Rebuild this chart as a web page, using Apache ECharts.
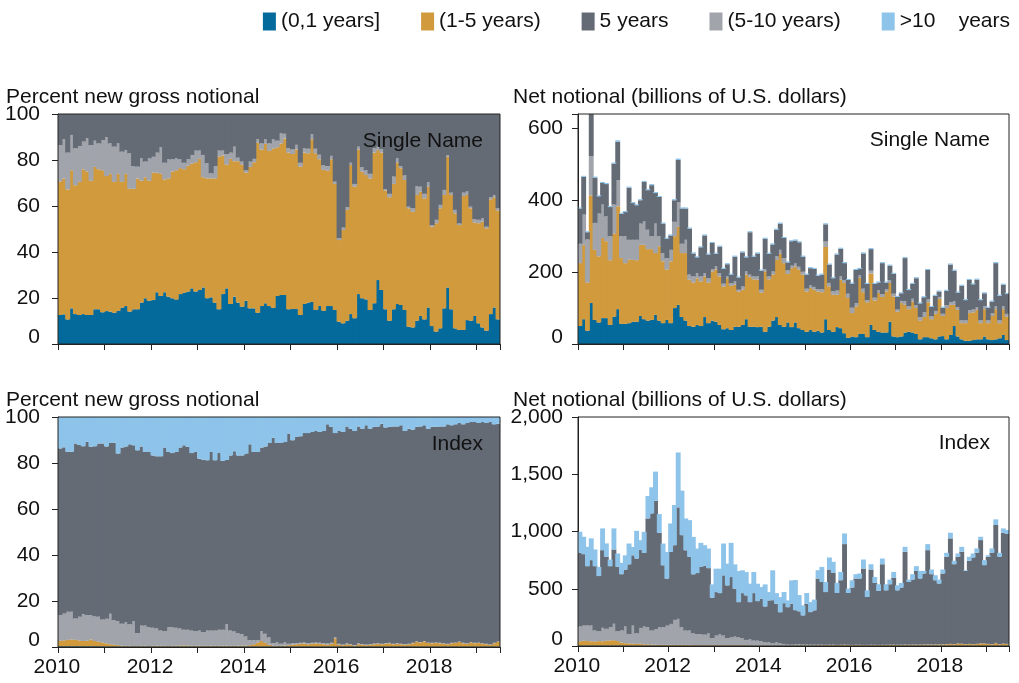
<!DOCTYPE html>
<html>
<head>
<meta charset="utf-8">
<script src="https://cdn.jsdelivr.net/npm/echarts@6/dist/echarts.min.js"></script>
<style>
  html, body { margin: 0; padding: 0; background: #fff; }
  #chart { width: 1019px; height: 683px; }
</style>
</head>
<body>
<div id="chart"></div>
<script>
// monthly observations, Jan 2010 - Jun 2019
const months = [];
for (let y = 2010; y <= 2019; y++) {
  for (let m = 1; m <= 12; m++) {
    if (y === 2019 && m > 6) break;
    months.push(y + '-' + (m < 10 ? '0' + m : m));
  }
}

const seriesNames = ['(0,1 years]', '(1-5 years)', '5 years', '(5-10 years)', '>10  years'];

// Single name, percent of new gross notional
const snPctShort = [12.6, 12.9, 10.7, 15.5, 13.0, 12.6, 13.0, 12.6, 12.6, 15.1, 15.1, 13.8, 14.3, 14.1, 13.6, 14.5, 15.8, 16.5, 14.1, 15.1, 15.1, 18.0, 19.9, 18.8, 19.1, 22.5, 20.9, 22.5, 20.6, 19.9, 19.4, 21.7, 22.3, 22.8, 24.2, 22.8, 23.5, 24.6, 19.9, 20.3, 18.0, 15.1, 21.7, 24.2, 17.4, 20.6, 18.0, 16.2, 18.8, 15.5, 15.5, 13.6, 16.5, 17.7, 16.5, 15.8, 20.9,
  21.3, 21.3, 15.1, 15.2, 15.2, 12.6, 17.4, 18.0, 18.3, 14.8, 16.5, 14.5, 16.5, 16.5, 14.8, 9.7, 9.0, 10.1, 13.0, 11.2, 21.7, 19.9, 19.4, 14.8, 17.7, 27.8, 23.5, 15.1, 10.1, 15.1, 17.4, 17.0, 14.8, 7.5, 7.2, 10.1, 12.2, 10.7, 15.9, 7.8, 5.4, 6.8, 15.5, 24.6, 15.1, 6.8, 6.1, 6.1, 10.4, 10.1, 12.2, 9.0, 7.2, 5.8, 13.0, 15.9, 10.7];
const snPctMid = [58.1, 59.1, 56.5, 60.0, 56.0, 57.9, 63.0, 62.4, 58.4, 61.9, 60.9, 61.7, 58.7, 59.9, 56.9, 59.5, 54.7, 57.5, 53.4, 52.4, 56.9, 53.0, 52.6, 52.2, 55.4, 52.0, 53.1, 49.0, 51.4, 55.1, 56.1, 54.8, 53.7, 54.7, 54.3, 56.2, 57.0, 47.9, 52.1, 51.7, 54.0, 66.4, 60.3, 53.8, 63.1, 58.9, 61.5, 61.8, 55.7, 61.5, 63.5, 73.9, 68.0, 69.3, 67.5, 69.2, 64.6,
  65.9, 68.1, 68.1, 67.4, 69.4, 64.5, 65.8, 64.9, 70.7, 68.1, 63.8, 61.2, 58.9, 63.8, 54.8, 35.5, 40.6, 48.2, 64.8, 57.2, 62.9, 55.0, 54.1, 57.2, 65.5, 56.5, 59.7, 51.6, 53.7, 54.5, 61.4, 59.4, 56.5, 51.5, 50.3, 54.7, 54.0, 52.6, 52.5, 43.2, 47.1, 52.2, 49.3, 56.8, 49.7, 50.0, 45.6, 58.2, 54.4, 48.9, 40.6, 43.5, 46.0, 44.5, 49.9, 47.9, 47.3];
const snPctLong = [15.8, 17.0, 16.0, 15.4, 16.1, 15.6, 12.0, 14.4, 15.5, 11.4, 11.2, 13.2, 16.9, 13.2, 15.3, 13.2, 13.1, 10.3, 15.4, 9.9, 5.1, 9.7, 6.8, 9.7, 6.9, 8.7, 11.5, 7.3, 8.3, 5.3, 5.2, 3.8, 2.8, 2.8, 3.7, 5.1, 3.6, 9.7, 6.6, 2.2, 5.4, 2.6, 2.1, 4.6, 2.7, 6.3, 1.5, 1.3, 1.0, 2.3, 1.5, 1.5, 2.7, 2.0, 3.2, 4.0, 2.9,
  4.4, 2.0, 2.0, 2.0, 2.0, 1.7, 2.0, 2.0, 2.3, 2.0, 2.0, 2.0, 2.0, 1.5, 1.0, 0.8, 1.0, 1.2, 1.0, 1.2, 1.2, 2.0, 2.0, 2.0, 1.9, 1.5, 1.5, 0.6, 1.5, 3.2, 2.0, 1.0, 2.0, 0.7, 1.5, 3.9, 2.2, 2.0, 2.0, 0.7, 1.5, 1.5, 2.2, 0.7, 1.0, 1.5, 0.7, 1.5, 1.5, 0.7, 1.5, 1.5, 1.5, 0.7, 0.9, 1.0, 1.0];
const snPctFive = [13.5, 11.0, 16.8, 9.1, 14.9, 13.9, 12.0, 10.6, 13.5, 11.6, 12.8, 11.3, 10.1, 12.8, 14.2, 12.8, 16.4, 15.7, 17.1, 22.6, 22.9, 19.3, 20.7, 19.3, 18.6, 16.8, 14.5, 21.2, 19.7, 19.7, 19.3, 19.7, 21.2, 19.7, 17.8, 15.9, 15.9, 17.8, 21.4, 25.8, 22.6, 15.9, 15.9, 17.4, 16.8, 14.2, 19.0, 20.7, 24.5, 20.7, 19.5, 11.0, 12.8, 11.0, 12.8, 11.0, 11.6,
  8.4, 8.6, 14.8, 15.4, 13.4, 21.2, 14.8, 15.1, 8.7, 15.1, 17.7, 22.3, 22.6, 18.2, 29.4, 54.0, 49.4, 40.5, 21.2, 30.4, 14.2, 23.1, 24.5, 26.0, 14.9, 14.2, 15.3, 32.7, 34.7, 27.2, 19.2, 22.6, 26.7, 40.3, 41.0, 31.3, 31.6, 34.7, 29.6, 48.3, 46.0, 39.5, 33.0, 17.9, 34.2, 41.7, 47.6, 34.2, 33.7, 40.3, 45.7, 46.0, 45.3, 49.0, 36.2, 35.2, 41.0];
const snPctOver10 = [];

// Single name, net notional (billions of U.S. dollars)
const snNetShort = [50, 69, 37, 114, 67, 60, 72, 72, 53, 76, 97, 56, 56, 58, 62, 62, 78, 69, 65, 67, 81, 65, 58, 67, 58, 100, 109, 75, 65, 50, 48, 53, 50, 75, 58, 65, 62, 53, 41, 44, 39, 48, 48, 53, 69, 48, 48, 47, 48, 34, 48, 65, 75, 53, 48, 60, 47,
  60, 44, 39, 34, 39, 34, 37, 32, 69, 39, 34, 47, 44, 30, 17, 21, 19, 28, 28, 19, 53, 39, 34, 32, 32, 62, 21, 19, 21, 32, 34, 32, 28, 13, 19, 19, 16, 13, 21, 22, 13, 25, 50, 21, 13, 9, 9, 11, 13, 13, 21, 13, 11, 13, 16, 25, 11];
const snNetMid = [175, 207, 134, 299, 195, 184, 223, 214, 180, 231, 286, 183, 169, 177, 172, 171, 198, 207, 199, 197, 172, 207, 172, 140, 172, 200, 217, 178, 188, 129, 123, 130, 124, 113, 113, 137, 146, 135, 119, 139, 123, 117, 98, 98, 124, 138, 132, 132, 95, 168, 132, 128, 159, 198, 177, 135, 164,
  156, 163, 154, 112, 117, 117, 109, 112, 201, 121, 103, 90, 135, 140, 111, 65, 85, 156, 116, 97, 143, 82, 108, 99, 114, 108, 111, 71, 93, 77, 63, 86, 72, 52, 56, 97, 53, 71, 104, 56, 87, 84, 59, 74, 45, 49, 77, 77, 82, 45, 76, 45, 67, 84, 42, 72, 65];
const snNetLong = [54, 84, 120, 110, 75, 119, 93, 69, 67, 81, 73, 61, 75, 55, 56, 57, 59, 65, 54, 36, 82, 28, 23, 32, 32, 40, 68, 26, 37, 14, 17, 14, 14, 9, 12, 6, 8, 9, 8, 5, 7, 9, 5, 9, 9, 7, 8, 9, 8, 6, 8, 9, 10, 11, 14, 10, 7,
  8, 8, 8, 8, 8, 8, 7, 8, 15, 10, 10, 12, 10, 8, 12, 15, 10, 8, 10, 6, 8, 8, 8, 8, 6, 8, 8, 6, 6, 10, 8, 8, 8, 10, 14, 8, 8, 8, 6, 6, 8, 8, 10, 8, 8, 8, 8, 8, 8, 8, 8, 8, 8, 8, 8, 8, 8];
const snNetFive = [98, 105, 20, 134, 126, 48, 60, 90, 81, 114, 107, 62, 67, 145, 102, 96, 65, 110, 110, 142, 85, 109, 82, 54, 40, 60, 118, 98, 87, 128, 64, 44, 81, 105, 66, 73, 35, 74, 41, 34, 24, 69, 34, 95, 39, 118, 55, 64, 53, 85, 63, 75, 74, 73, 56, 22, 68,
  64, 68, 42, 39, 47, 50, 37, 41, 48, 51, 36, 100, 76, 47, 38, 67, 92, 17, 98, 45, 60, 38, 21, 86, 19, 40, 55, 35, 21, 120, 45, 41, 75, 38, 41, 82, 26, 42, 15, 17, 40, 104, 85, 40, 96, 56, 84, 70, 76, 56, 36, 35, 32, 120, 68, 60, 55];
const snNetOver10 = [3, 3, 3, 4, 3, 3, 3, 3, 3, 3, 4, 3, 3, 3, 3, 3, 3, 3, 3, 3, 3, 3, 3, 3, 3, 3, 4, 3, 3, 3, 3, 3, 3, 3, 3, 3, 3, 3, 3, 3, 3, 3, 3, 3, 3, 3, 3, 3, 3, 3, 3, 3, 3, 3, 3, 3, 3,
  3, 3, 3, 3, 3, 3, 3, 3, 3, 3, 3, 3, 3, 3, 3, 3, 3, 3, 3, 3, 3, 3, 3, 3, 3, 3, 3, 3, 3, 3, 3, 3, 3, 3, 3, 3, 3, 3, 3, 3, 3, 3, 3, 3, 3, 3, 3, 3, 3, 3, 3, 3, 3, 3, 3, 3, 3];

// Index, percent of new gross notional
const idxPctShort = [0.3, 0.3, 0.3, 0.3, 0.3, 0.3, 0.3, 0.3, 0.3, 0.3, 0.3, 0.3, 0.2, 0.2, 0.2, 0.2, 0.2, 0.2, 0.2, 0.2, 0.2, 0.2, 0.2, 0.2, 0.2, 0.2, 0.2, 0.2, 0.2, 0.2, 0.2, 0.2, 0.2, 0.2, 0.2, 0.2, 0.2, 0.2, 0.2, 0.2, 0.2, 0.2, 0.2, 0.2, 0.2, 0.2, 0.2, 0.2, 0.2, 0.2, 0.2, 0.2, 0.2, 0.2, 0.2, 0.2, 0.2,
  0.2, 0.2, 0.2, 0.2, 0.2, 0.2, 0.2, 0.2, 0.2, 0.2, 0.2, 0.2, 0.2, 0.2, 0.2, 0.2, 0.2, 0.2, 0.2, 0.2, 0.2, 0.2, 0.2, 0.2, 0.2, 0.2, 0.2, 0.2, 0.2, 0.2, 0.2, 0.2, 0.2, 0.2, 0.2, 0.2, 0.2, 0.2, 0.2, 0.2, 0.2, 0.2, 0.2, 0.2, 0.2, 0.2, 0.2, 0.2, 0.2, 0.2, 0.2, 0.2, 0.2, 0.2, 0.2, 0.2, 0.2];
const idxPctMid = [2.4, 2.6, 2.8, 3.0, 2.8, 2.6, 2.3, 2.4, 3.0, 2.3, 2.0, 1.6, 1.4, 1.0, 0.8, 0.6, 0.4, 0.3, 0.3, 0.2, 0.2, 0.3, 0.3, 0.2, 0.3, 0.4, 0.3, 0.3, 0.2, 0.3, 0.3, 0.4, 0.5, 0.4, 0.3, 0.3, 0.4, 0.3, 0.3, 0.4, 0.3, 0.3, 0.4, 0.4, 0.3, 0.3, 0.4, 0.4, 0.4, 0.6, 1.0, 1.8, 2.4, 1.6, 0.8, 0.4,
  0.3, 0.3, 0.4, 0.6, 0.8, 1.0, 1.2, 1.3, 1.0, 1.2, 1.4, 1.2, 1.0, 0.8, 1.2, 3.6, 0.8, 0.6, 1.0, 0.8, 0.4, 1.0, 0.8, 0.6, 0.8, 1.0, 1.2, 1.0, 1.2, 1.4, 1.0, 1.2, 1.0, 0.8, 1.0, 1.4, 2.0, 1.8, 2.2, 1.6, 1.4, 1.6, 1.4, 1.2, 1.0, 1.4, 1.6, 2.0, 1.4, 1.2, 1.8, 1.4, 1.6, 1.2, 1.0, 0.8, 1.4, 2.0];
const idxPctLong = [11.2, 11.7, 12.2, 12.0, 9.3, 10.2, 11.7, 11.2, 10.6, 10.8, 10.8, 10.1, 10.7, 13.3, 10.6, 10.5, 9.5, 10.4, 9.4, 10.9, 5.7, 8.9, 8.9, 8.3, 7.9, 7.4, 6.7, 6.5, 8.3, 8.2, 7.9, 7.4, 6.8, 6.9, 6.7, 6.5, 6.6, 6.0, 6.7, 6.6, 6.7, 7.0, 6.9, 9.4, 6.7, 6.4, 5.5, 4.9, 4.0, 2.1, 1.7, 0.9, 4.4, 4.0, 3.1, 1.1, 1.7, 0.9, 1.6, 0.6,
  0.6, 0.5, 0.5, 0.6, 0.5, 0.4, 0.5, 0.4, 0.4, 0.5, 0.4, 0.3, 0.4, 0.3, 0.4, 0.3, 0.3, 0.4, 0.3, 0.3, 0.3, 0.3, 0.3, 0.2, 0.3, 0.3, 0.2, 0.3, 0.2, 0.3, 0.2, 0.2, 0.3, 0.2, 0.2, 0.2, 0.2, 0.3, 0.2, 0.2, 0.2, 0.2, 0.2, 0.2, 0.2, 0.2, 0.2, 0.2, 0.2, 0.2, 0.2, 0.2, 0.2, 0.2];
const idxPctFive = [72.4, 72.2, 69.6, 69.6, 76.1, 74.7, 73.0, 75.3, 73.2, 73.9, 75.4, 76.5, 74.9, 74.2, 77.2, 72.8, 76.6, 76.3, 78.2, 76.4, 79.4, 77.8, 75.4, 76.1, 74.9, 74.9, 75.7, 79.7, 76.1, 75.6, 76.4, 78.7, 80.2, 79.5, 77.1, 77.8, 74.7, 74.9, 74.0, 77.6, 74.0, 76.8, 73.4, 71.3, 76.1, 78.2, 77.2, 77.8, 79.5, 85.2, 81.9, 81.9, 79.7, 81.4, 84.6, 89.3, 86.5, 87.3, 86.9, 91.4,
  88.3, 89.6, 89.7, 90.9, 91.3, 91.7, 91.8, 91.7, 92.3, 95.3, 93.9, 88.9, 92.5, 92.4, 94.3, 93.6, 93.0, 94.3, 93.6, 95.3, 93.6, 94.2, 94.2, 95.7, 93.7, 93.8, 94.5, 94.2, 95.0, 92.6, 93.5, 92.7, 93.2, 93.7, 93.8, 92.9, 93.9, 93.6, 94.1, 94.3, 95.4, 94.6, 94.8, 95.0, 95.0, 95.8, 95.6, 96.0, 95.4, 96.2, 96.0, 96.6, 95.0, 94.7];
const idxPctOver10 = [13.8, 13.3, 15.2, 15.2, 11.6, 12.3, 12.8, 10.9, 13.0, 12.8, 11.6, 11.6, 12.8, 11.3, 11.2, 15.9, 13.3, 12.8, 11.9, 12.3, 14.5, 12.8, 15.2, 15.2, 16.7, 17.1, 17.1, 13.3, 15.2, 15.7, 15.2, 13.3, 12.3, 13.0, 15.7, 15.2, 18.1, 18.6, 18.8, 15.2, 18.8, 15.7, 19.1, 18.8, 16.7, 14.8, 16.7, 16.7, 15.9, 11.9, 15.2, 15.2, 13.3, 12.8, 11.3, 9.0, 11.3, 11.3, 10.9, 7.2,
  10.1, 8.7, 8.4, 7.0, 7.0, 6.5, 6.1, 6.5, 6.1, 3.2, 4.3, 7.0, 6.1, 6.5, 4.1, 5.1, 6.1, 4.1, 5.1, 3.6, 5.1, 4.3, 4.1, 2.9, 4.6, 4.3, 4.1, 4.1, 3.6, 6.1, 5.1, 5.5, 4.3, 4.1, 3.6, 5.1, 4.3, 4.3, 4.1, 4.1, 3.2, 3.6, 3.2, 2.6, 3.2, 2.6, 2.2, 2.2, 2.6, 2.2, 2.6, 2.2, 3.2, 2.9];

// Index, net notional (billions of U.S. dollars)
const idxNetShort = [4, 4, 4, 4, 4, 4, 4, 4, 4, 4, 4, 4, 3, 3, 3, 3, 3, 3, 3, 3, 3, 3, 3, 3, 3, 3, 3, 3, 3, 3, 3, 3, 3, 3, 3, 3, 3, 3, 3, 3, 3, 3, 3, 3, 3, 3, 3, 3, 3, 3, 3, 3, 3, 3, 3, 3, 3,
  3, 3, 3, 3, 3, 3, 3, 3, 3, 3, 3, 3, 3, 3, 3, 3, 3, 3, 3, 3, 3, 3, 3, 3, 3, 3, 3, 3, 3, 3, 3, 3, 3, 3, 3, 3, 3, 3, 3, 3, 3, 3, 3, 3, 3, 3, 3, 3, 3, 3, 3, 3, 3, 3, 3, 3, 3];
const idxNetMid = [37, 42, 39, 37, 35, 39, 37, 42, 45, 47, 39, 27, 22, 19, 17, 15, 17, 12, 12, 9, 9, 7, 7, 7, 7, 7, 7, 7, 7, 7, 5, 5, 5, 5, 5, 5, 5, 5, 5, 5, 5, 5, 5, 5, 5, 3, 3, 3, 3, 3, 3, 3, 3, 3, 3, 3, 3,
  4, 4, 4, 4, 4, 4, 5, 5, 5, 6, 6, 5, 6, 8, 6, 5, 6, 6, 5, 5, 6, 6, 5, 6, 6, 7, 7, 6, 7, 8, 7, 8, 8, 8, 9, 10, 9, 9, 10, 10, 12, 14, 12, 18, 15, 12, 14, 12, 14, 20, 18, 14, 12, 22, 12, 16, 14];
const idxNetLong = [130, 133, 136, 138, 97, 87, 118, 104, 116, 143, 87, 105, 145, 83, 158, 93, 138, 155, 149, 123, 137, 154, 154, 168, 183, 218, 227, 154, 125, 125, 103, 97, 97, 91, 103, 62, 83, 97, 83, 62, 68, 74, 68, 62, 45, 55, 41, 41, 35, 26, 26, 17, 26, 17, 12, 6, 6, 8, 8, 6,
  6, 5, 5, 4, 4, 3, 3, 3, 2, 2, 2, 2, 2, 2, 2, 2, 2, 2, 2, 2, 2, 2, 2, 2, 2, 2, 2, 2, 2, 2, 2, 2, 2, 2, 2, 2, 2, 2, 2, 2, 2, 2, 2, 2, 2, 2, 2, 2, 2, 2, 2, 2, 2, 2];
const idxNetFive = [643, 623, 518, 571, 561, 481, 678, 629, 532, 649, 561, 491, 497, 608, 614, 652, 684, 643, 950, 1023, 1120, 824, 541, 410, 629, 652, 974, 804, 701, 643, 515, 532, 585, 601, 569, 351, 380, 357, 526, 459, 526, 418, 307, 392, 389, 322, 415, 345, 371, 313, 366, 377, 336, 272, 356, 327, 358, 298, 288, 254,
  356, 284, 299, 577, 547, 460, 656, 626, 453, 563, 877, 452, 500, 578, 578, 666, 418, 657, 540, 471, 703, 475, 527, 585, 475, 498, 810, 547, 567, 643, 576, 619, 822, 613, 560, 530, 618, 762, 921, 697, 756, 803, 639, 725, 756, 795, 900, 683, 760, 797, 1030, 762, 968, 959];
const idxNetOver10 = [184, 152, 169, 190, 146, 80, 190, 117, 58, 184, 117, 99, 125, 182, 73, 243, 82, 184, 196, 228, 254, 164, 190, 234, 248, 351, 479, 389, 278, 321, 327, 214, 211, 180, 171, 117, 204, 213, 278, 190, 299, 213, 272, 199, 204, 161, 184, 152, 103, 193, 73, 261, 94, 132, 97, 59, 203, 263, 142, 88,
  94, 88, 94, 73, 132, 88, 105, 97, 88, 73, 93, 38, 64, 38, 44, 79, 58, 46, 52, 58, 50, 53, 41, 50, 44, 41, 43, 21, 47, 41, 67, 23, 53, 41, 44, 35, 35, 35, 49, 30, 29, 43, 6, 35, 35, 38, 29, 44, 14, 38, 49, 35, 38, 35];

const colorMap = {
  '(0,1 years]': '#046a9c',
  '(1-5 years)': '#d19a3d',
  '5 years': '#646b75',
  '(5-10 years)': '#a1a4ab',
  '>10  years': '#8ec3ea'
};
const fontFamily = '"Liberation Sans", Arial, sans-serif';
const textColor = '#111';

const chartDom = document.getElementById('chart');
const myChart = echarts.init(chartDom, null, { renderer: 'canvas' });

// stacking order bottom -> top: (0,1], (1-5), (5-10), 5 years, >10
function panelSeries(idx, short, mid, long, five, over10) {
  const layers = [
    ['(0,1 years]', short],
    ['(1-5 years)', mid],
    ['(5-10 years)', long],
    ['5 years', five],
    ['>10  years', over10]
  ];
  return layers.map(function (l) {
    const c = colorMap[l[0]];
    return {
      name: l[0],
      type: 'bar',
      xAxisIndex: idx,
      yAxisIndex: idx,
      stack: 'p' + idx,
      data: l[1],
      // slightly wider than the band so neighbouring bars overlap and no seams show
      barWidth: '130%',
      itemStyle: { color: c },
      emphasis: { disabled: true }
    };
  });
}

const grids = [
  { left: 58, top: 114, width: 442, height: 230 },
  { left: 578, top: 114, width: 431, height: 230 },
  { left: 58, top: 417, width: 442, height: 230 },
  { left: 578, top: 417, width: 431, height: 229 }
];

function xAxisCfg(idx, showLabels) {
  return {
    type: 'category',
    gridIndex: idx,
    data: months,
    axisLine: { show: true, lineStyle: { color: '#222', width: 1 } },
    axisTick: { show: true, interval: function (i) { return i % 12 === 0; }, length: 6, lineStyle: { color: '#222' } },
    axisLabel: {
      show: showLabels,
      interval: function (i) { return i % 24 === 0; },
      formatter: function (v) { return v.slice(0, 4); },
      color: textColor, fontSize: 21, fontFamily: fontFamily, margin: 10,
      padding: [0, 6, 0, 0]
    },
    splitLine: { show: false }
  };
}

function withComma(v) {
  if (v >= 1000) {
    const r = v % 1000;
    return Math.floor(v / 1000) + ',' + (r < 10 ? '00' + r : r < 100 ? '0' + r : r);
  }
  return String(v);
}

function yAxisCfg(idx, max, interval, comma, margin) {
  return {
    type: 'value',
    gridIndex: idx,
    min: 0,
    max: max,
    interval: interval,
    axisLine: { show: true, lineStyle: { color: '#222' } },
    axisTick: { show: true, length: 6, lineStyle: { color: '#222' } },
    splitLine: { show: false },
    axisLabel: {
      color: textColor, fontSize: 21, fontFamily: fontFamily, margin: margin,
      formatter: function (v) {
        if (v % interval !== 0) return '';
        if (v === 0) return '{z|0}';
        return comma ? withComma(v) : String(v);
      },
      rich: { z: { fontSize: 21, fontFamily: fontFamily, color: textColor, padding: [0, 0, 13, 0] } }
    }
  };
}

function label(text, x, y, align) {
  return {
    type: 'text', x: x, y: y, z: 100,
    style: { text: text, fill: textColor, font: '21px ' + fontFamily, align: align || 'left', verticalAlign: 'middle' }
  };
}

const option = {
  animation: false,
  backgroundColor: '#fff',
  legend: {
    data: seriesNames,
    top: 6,
    right: 4,
    icon: 'rect',
    itemWidth: 13,
    itemHeight: 18,
    itemGap: 41,
    selectedMode: false,
    formatter: function (name) {
      return name === '>10  years' ? '>10    years' : name;
    },
    textStyle: { fontSize: 21, color: textColor, fontFamily: fontFamily }
  },
  grid: grids.map(function (g) {
    return Object.assign({ show: true, borderColor: '#222', borderWidth: 1, backgroundColor: 'transparent', z: 5 }, g);
  }),
  xAxis: [xAxisCfg(0, false), xAxisCfg(1, false), xAxisCfg(2, true), xAxisCfg(3, true)],
  yAxis: [yAxisCfg(0, 100, 20, false, 18), yAxisCfg(1, 640, 200, false, 15), yAxisCfg(2, 100, 20, false, 18), yAxisCfg(3, 2000, 500, true, 15)],
  graphic: [
    label('Percent new gross notional', 6, 97),
    label('Net notional (billions of U.S. dollars)', 513, 97),
    label('Percent new gross notional', 6, 400),
    label('Net notional (billions of U.S. dollars)', 513, 400),
    label('Single Name', 483, 141, 'right'),
    label('Single Name', 990, 140, 'right'),
    label('Index', 483, 444, 'right'),
    label('Index', 990, 443, 'right')
  ],
  series: [].concat(
    panelSeries(0, snPctShort, snPctMid, snPctLong, snPctFive, snPctOver10),
    panelSeries(1, snNetShort, snNetMid, snNetLong, snNetFive, snNetOver10),
    panelSeries(2, idxPctShort, idxPctMid, idxPctLong, idxPctFive, idxPctOver10),
    panelSeries(3, idxNetShort, idxNetMid, idxNetLong, idxNetFive, idxNetOver10)
  )
};

myChart.setOption(option);
</script>
</body>
</html>
